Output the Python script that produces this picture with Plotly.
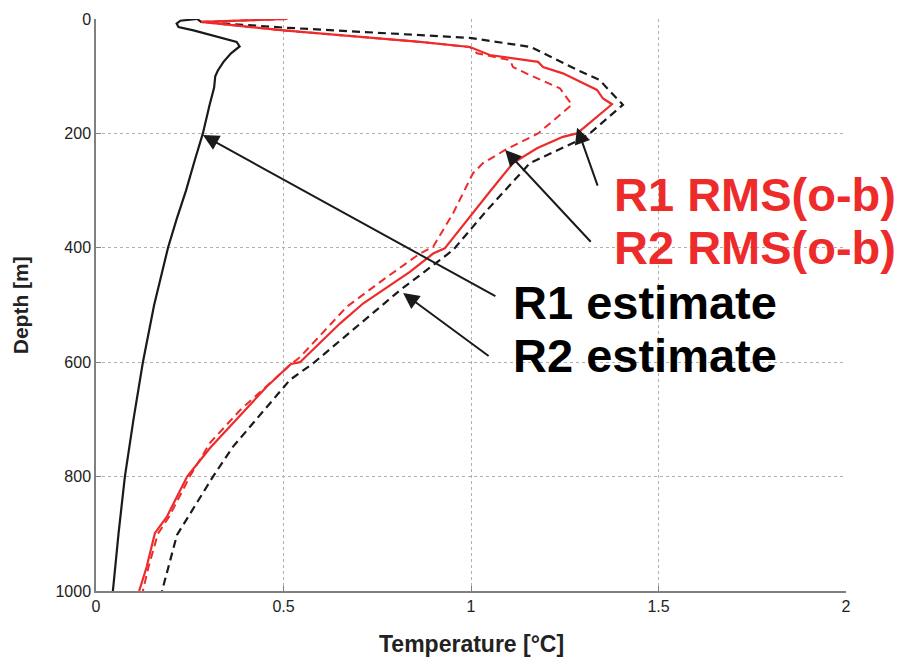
import plotly.graph_objects as go

# ---- data (depth in m, temperature in degC) ----
r1_est_depth = [0, 3, 8, 14, 20, 30, 40, 48, 60, 75, 90, 100, 120, 150, 200, 250, 300, 350, 400, 500, 600, 700, 800, 900, 1000]
r1_est_temp = [0.27, 0.225, 0.215, 0.22, 0.26, 0.32, 0.375, 0.383, 0.36, 0.34, 0.325, 0.318, 0.315, 0.303, 0.285, 0.262, 0.24, 0.215, 0.192, 0.155, 0.125, 0.1, 0.077, 0.06, 0.045]

r2_est_depth = [0, 5, 15, 28, 33, 49, 63, 89, 107, 119, 150, 200, 211, 252, 334, 404, 474, 602, 631, 748, 800, 902, 1000]
r2_est_temp = [0.27, 0.28, 0.5, 0.864, 0.997, 1.16, 1.203, 1.283, 1.344, 1.36, 1.405, 1.317, 1.291, 1.157, 1.043, 0.952, 0.811, 0.579, 0.517, 0.365, 0.312, 0.216, 0.176]

r1_rms_depth = [0, 5, 20, 40, 49, 63, 75, 84, 95, 124, 139, 149, 200, 206, 226, 252, 302, 401, 410, 442, 497, 532, 600, 603, 643, 750, 800, 870, 899, 958, 1000]
r1_rms_temp = [0.51, 0.28, 0.5, 0.864, 0.997, 1.05, 1.179, 1.192, 1.245, 1.336, 1.352, 1.376, 1.283, 1.245, 1.176, 1.112, 1.05, 0.93, 0.899, 0.837, 0.713, 0.651, 0.544, 0.52, 0.455, 0.304, 0.243, 0.189, 0.157, 0.135, 0.115]

r2_rms_depth = [0, 5, 20, 40, 49, 54, 60, 72, 84, 98, 121, 150, 200, 229, 252, 270, 340, 398, 410, 451, 503, 591, 605, 684, 741, 800, 870, 900, 958, 1000]
r2_rms_temp = [0.51, 0.28, 0.5, 0.864, 0.997, 1.005, 1.016, 1.104, 1.112, 1.157, 1.237, 1.269, 1.179, 1.091, 1.032, 1.005, 0.952, 0.899, 0.864, 0.776, 0.669, 0.544, 0.517, 0.384, 0.304, 0.25, 0.195, 0.165, 0.14, 0.125]

x_ticks = [0, 0.5, 1, 1.5, 2]
x_tick_labels = ["0", "0.5", "1", "1.5", "2"]
y_ticks = [0, 200, 400, 600, 800, 1000]
y_tick_labels = ["0", "200", "400", "600", "800", "1000"]

RED = "#ee2b2b"
BLACK = "#1a1a1a"
FONT = "Liberation Sans, Arial, sans-serif"

fig = go.Figure()
fig.add_trace(go.Scatter(x=r1_est_temp, y=r1_est_depth, mode="lines",
                         line=dict(color=BLACK, width=2.2), name="R1 estimate"))
fig.add_trace(go.Scatter(x=r2_est_temp, y=r2_est_depth, mode="lines",
                         line=dict(color=BLACK, width=2.2, dash="8px,5px"), name="R2 estimate"))
fig.add_trace(go.Scatter(x=r2_rms_temp, y=r2_rms_depth, mode="lines",
                         line=dict(color=RED, width=2, dash="8px,5px"), name="R2 RMS(o-b)"))
fig.add_trace(go.Scatter(x=r1_rms_temp, y=r1_rms_depth, mode="lines",
                         line=dict(color=RED, width=2.2), name="R1 RMS(o-b)"))

# arrows: (head_x, head_y, tail_x, tail_y) in data coords
arrows = [
    (1.283, 190, 1.339, 294),
    (1.091, 229, 1.323, 392),
    (0.285, 203, 1.069, 486),
    (0.819, 479, 1.051, 591),
]
for hx, hy, tx, ty in arrows:
    fig.add_annotation(x=hx, y=hy, ax=tx, ay=ty, xref="x", yref="y", axref="x", ayref="y",
                       text="", showarrow=True, arrowhead=2, arrowsize=1.6, arrowwidth=2,
                       arrowcolor=BLACK)

labels = [
    ("R1 RMS(o-b)", 1.379, 306, RED),
    ("R2 RMS(o-b)", 1.379, 399, RED),
    ("R1 estimate", 1.109, 495, "#000000"),
    ("R2 estimate", 1.109, 588, "#000000"),
]
for txt, x, y, c in labels:
    fig.add_annotation(x=x, y=y, xref="x", yref="y", text="<b>" + txt + "</b>", showarrow=False,
                       xanchor="left", yanchor="middle", borderpad=0,
                       font=dict(family=FONT, size=47, color=c))

# axis titles
fig.add_annotation(x=0.5, y=-0.093, xref="paper", yref="paper", yanchor="middle", xanchor="center",
                   text="<b>Temperature [°C]</b>", showarrow=False,
                   font=dict(family=FONT, size=23, color="#222222"))
fig.add_annotation(x=-0.101, y=0.5, xref="paper", yref="paper", xanchor="center", yanchor="middle",
                   text="<b>Depth [m]</b>", textangle=-90, showarrow=False,
                   font=dict(family=FONT, size=21, color="#222222"))

axis_common = dict(showline=True, linecolor="#808080", linewidth=1.5, ticks="inside", ticklen=5,
                   tickcolor="#808080", showgrid=True, gridcolor="#b0b0b0", griddash="dot",
                   gridwidth=1, zeroline=False, mirror=False, automargin=False,
                   tickfont=dict(family=FONT, size=16, color="#222222"))

fig.update_layout(
    width=901, height=659,
    margin=dict(l=96, r=55, t=19, b=68),
    paper_bgcolor="white", plot_bgcolor="white",
    showlegend=False,
    xaxis=dict(range=[0, 2], tickvals=x_ticks, ticktext=x_tick_labels, **axis_common),
    yaxis=dict(range=[1000, 0], tickvals=y_ticks, ticktext=y_tick_labels, **axis_common),
)

fig.write_html("out.html", config={"displayModeBar": False},
               post_script="document.body.style.margin='0';document.body.style.padding='0';")
